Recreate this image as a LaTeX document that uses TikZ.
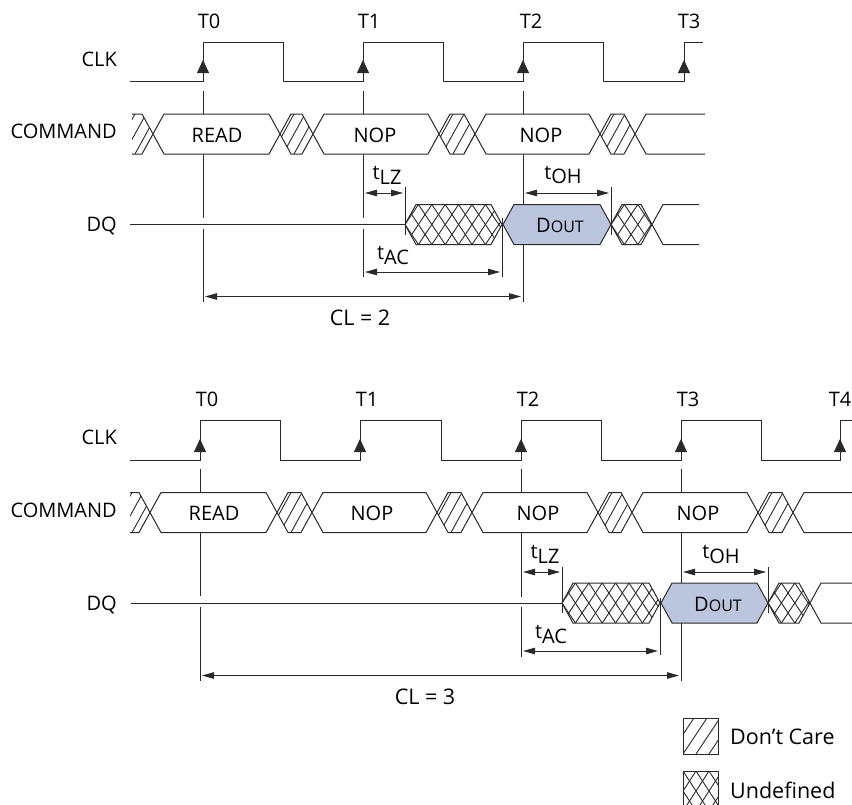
\documentclass[tikz,border=0pt]{standalone}
\usepackage{fontspec}
\setmainfont{Open Sans}
\usetikzlibrary{arrows.meta}

\definecolor{inkline}{HTML}{2B2A2B}
\definecolor{doutblue}{HTML}{BCC5DE}

\tikzset{
  sig/.style={draw=inkline, line width=1pt, line join=miter},
  tick/.style={draw=inkline, line width=1pt},
  hatchline/.style={draw=inkline, line width=0.9pt},
  dim/.style={draw=inkline, line width=0.9pt, {Triangle[length=12pt,width=6.5pt]}-{Triangle[length=12pt,width=6.5pt]}, shorten >=2pt, shorten <=2pt},
  clkarr/.style={draw=inkline, line width=1pt, -{Triangle[length=13pt,width=12pt]}},
  lbl/.style={font=\fontsize{20}{22}\selectfont, text=black, inner sep=0pt},
  sigl/.style={lbl, anchor=east},
  keyl/.style={lbl, anchor=west, font=\fontsize{21.5}{24}\selectfont},
  tname/.style={lbl}
}

% hex of one bus value: left point, right point, mid y
\newcommand{\hexpath}[3]{(#1,#3) -- (#1+11,#3-20) -- (#2-11,#3-20) -- (#2,#3) -- (#2-11,#3+20) -- (#1+11,#3+20) -- cycle}
\newcommand{\valueband}[3]{\draw[sig, fill=white] \hexpath{#1}{#2}{#3};}
\newcommand{\dontcare}[3]{%
  \begin{scope}
    \clip \hexpath{#1}{#2}{#3};
    \foreach \k in {-2,...,8} \draw[hatchline] (#1+\k*11-8,#3+20) -- ++(22,-40);
  \end{scope}
  \draw[sig] \hexpath{#1}{#2}{#3};}
\newcommand{\undefband}[3]{%
  \begin{scope}
    \clip \hexpath{#1}{#2}{#3};
    \foreach \k in {-2,...,10} {
      \draw[hatchline] (#1+\k*13.4-13.4,#3+20) -- ++(26.8,-40);
      \draw[hatchline] (#1+\k*13.4-13.4,#3-20) -- ++(26.8,40);
    }
  \end{scope}
  \draw[sig] \hexpath{#1}{#2}{#3};}
\newcommand{\subt}[2]{t\raisebox{-#2}{#1}}
\newcommand{\dout}{D{\fontsize{16}{18}\selectfont OUT}}

\begin{document}
\begin{tikzpicture}[x=1pt, y=-1pt]
  \useasboundingbox (0,0) rectangle (852,804);

  % Upper diagram
  \draw[sig] (130,81) -- (203,81) -- (203,42) -- (283,42) -- (283,81) -- (363,81) -- (363,42)
    -- (443,42) -- (443,81) -- (523,81) -- (523,42) -- (603,42) -- (603,81) -- (684,81) -- (684,42) -- (703,42);
  \foreach \n/\x/\lx in {0/203/209, 1/363/369, 2/523/531, 3/684/689} {
    \node[tname] (upT\n) at (\lx,21) {T\n};
    \coordinate (upRise\n) at (\x,73);
    \coordinate (upHead\n) at (\x,60);
    \draw[clkarr] (upRise\n) -- (upHead\n);
  }
  \foreach \x in {203,363,523} \draw[tick] (\x,91) -- (\x,114);
  \draw[tick] (203,154) -- (203,218);
  \draw[tick] (203,229) -- (203,302);
  \draw[tick] (363,154) -- (363,218);
  \draw[tick] (363,229) -- (363,277);
  \draw[tick] (523,154) -- (523,302);

  \node[sigl] (upClk) at (117,59) {CLK};
  \node[sigl] (upCmd) at (117,131) {COMMAND};
  \node[sigl] (upDq) at (117,226) {DQ};

  \begin{scope}
    \clip (132,100) rectangle (705,165);
    \dontcare{121}{153}{134}
    \valueband{153}{280}{134}
    \dontcare{280}{313}{134}
    \valueband{313}{439}{134}
    \dontcare{439}{475}{134}
    \valueband{475}{600}{134}
    \dontcare{600}{635}{134}
    \valueband{635}{740}{134}
  \end{scope}
  \node[lbl] (upRead) at (217,135) {READ};
  \node[lbl] (upNopA) at (375,135) {NOP};
  \node[lbl] (upNopB) at (541,135) {NOP};

  \coordinate (upDqL) at (130,224);
  \coordinate (upDqR) at (405,224);
  \draw[sig] (upDqL) -- (upDqR);
  \undefband{405}{502}{224.5}
  \draw[sig, fill=doutblue] \hexpath{503}{611}{224.5};
  \undefband{611}{652}{224.5}
  \begin{scope}
    \clip (640,195) rectangle (699,255);
    \valueband{652}{740}{224.5}
  \end{scope}
  \node[lbl] (upDout) at (560,225) {\dout};

  \draw[tick] (405,187) -- (405,235);
  \draw[tick] (502,218) -- (502,277);
  \draw[tick] (611,187) -- (611,235);

  \coordinate (upLzA) at (363,193);
  \coordinate (upLzB) at (405,193);
  \coordinate (upOhA) at (523,193);
  \coordinate (upOhB) at (611,193);
  \coordinate (upAcA) at (363,272);
  \coordinate (upAcB) at (502,272);
  \coordinate (upClA) at (203,296.5);
  \coordinate (upClB) at (523,296.5);
  \draw[dim] (upLzA) -- (upLzB);
  \draw[dim] (upOhA) -- (upOhB);
  \draw[dim] (upAcA) -- (upAcB);
  \draw[dim] (upClA) -- (upClB);
  \node[lbl] (upLz) at (387,175) {\subt{LZ}{5pt}};
  \node[lbl] (upOh) at (563,175) {\subt{OH}{5pt}};
  \node[lbl] (upAc) at (393,255) {\subt{AC}{5pt}};
  \node[lbl, font=\fontsize{21.5}{24}\selectfont] (upCl) at (360,318) {CL = 2};

  % Lower diagram
  \draw[sig] (130,460) -- (200,460) -- (200,420) -- (280,420) -- (280,460) -- (360,460) -- (360,420)
    -- (441,420) -- (441,460) -- (521,460) -- (521,420) -- (601,420) -- (601,460) -- (681,460) -- (681,420)
    -- (761,420) -- (761,460) -- (840,460) -- (840,420) -- (852,420);
  \foreach \n/\x/\lx in {0/200/207, 1/360/367, 2/521/528, 3/681/688} {
    \node[tname] (loT\n) at (\lx,399) {T\n};
    \coordinate (loRise\n) at (\x,452);
    \coordinate (loHead\n) at (\x,439);
    \draw[clkarr] (loRise\n) -- (loHead\n);
  }
  \node[tname, anchor=east] (loT4) at (851.5,399) {T4};
  \coordinate (loRise4) at (840,452);
  \coordinate (loHead4) at (840,439);
  \draw[clkarr] (loRise4) -- (loHead4);
  \foreach \x in {200,521,681} \draw[tick] (\x,469) -- (\x,492.5);
  \draw[tick] (200,532.5) -- (200,596);
  \draw[tick] (200,607) -- (200,681);
  \draw[tick] (521,532.5) -- (521,597);
  \draw[tick] (521,607) -- (521,657);
  \draw[tick] (681,532.5) -- (681,681);

  \node[sigl] (loClk) at (117,437) {CLK};
  \node[sigl] (loCmd) at (117,510) {COMMAND};
  \node[sigl] (loDq) at (117,605) {DQ};

  \begin{scope}
    \clip (130,480) rectangle (852,545);
    \dontcare{118}{150}{512.5}
    \valueband{150}{277}{512.5}
    \dontcare{277}{312}{512.5}
    \valueband{312}{437}{512.5}
    \dontcare{437}{472}{512.5}
    \valueband{472}{598}{512.5}
    \dontcare{598}{632}{512.5}
    \valueband{632}{758}{512.5}
    \dontcare{758}{793}{512.5}
    \valueband{793}{900}{512.5}
  \end{scope}
  \node[lbl] (loRead) at (214,513) {READ};
  \node[lbl] (loNopA) at (372,513) {NOP};
  \node[lbl] (loNopB) at (538,513) {NOP};
  \node[lbl] (loNopC) at (698,513) {NOP};

  \coordinate (loDqL) at (131,603);
  \coordinate (loDqR) at (562,603);
  \draw[sig] (loDqL) -- (loDqR);
  \undefband{562}{660}{603}
  \draw[sig, fill=doutblue] \hexpath{661}{768}{603};
  \undefband{768}{810}{603}
  \begin{scope}
    \clip (800,575) rectangle (852,635);
    \valueband{810}{900}{603}
  \end{scope}
  \node[lbl] (loDout) at (718,604) {\dout};

  \draw[tick] (562,567) -- (562,613);
  \draw[tick] (660,598) -- (660,655);
  \draw[tick] (768,567) -- (768,613);

  \coordinate (loLzA) at (521,572);
  \coordinate (loLzB) at (562,572);
  \coordinate (loOhA) at (681,572);
  \coordinate (loOhB) at (768,572);
  \coordinate (loAcA) at (521,651);
  \coordinate (loAcB) at (660,651);
  \coordinate (loClA) at (200,675.5);
  \coordinate (loClB) at (681,675.5);
  \draw[dim] (loLzA) -- (loLzB);
  \draw[dim] (loOhA) -- (loOhB);
  \draw[dim] (loAcA) -- (loAcB);
  \draw[dim] (loClA) -- (loClB);
  \node[lbl] (loLz) at (545,554) {\subt{LZ}{5pt}};
  \node[lbl] (loOh) at (721,554) {\subt{OH}{5pt}};
  \node[lbl] (loAc) at (551,634) {\subt{AC}{5pt}};
  \node[lbl, font=\fontsize{21.5}{24}\selectfont] (loCl) at (425,697) {CL = 3};

  % Legend
  \begin{scope}
    \clip (683,718) rectangle (718,754);
    \foreach \k in {-1,...,3} \draw[hatchline] (683+\k*13,754) -- ++(24,-36);
  \end{scope}
  \draw[sig, line width=0.9pt] (683,718) rectangle (718,754);
  \begin{scope}
    \clip (683,771) rectangle (718,804);
    \foreach \k in {-1,...,3} {
      \draw[hatchline] (683+\k*13,811) -- ++(26,-40);
      \draw[hatchline] (683+\k*13,771) -- ++(26,40);
    }
  \end{scope}
  \draw[sig, line width=0.9pt] (683,771) rectangle (718,810);
  \node[keyl] (keyCare) at (730,737) {Don't Care};
  \node[keyl] (keyUndef) at (730,790) {Undefined};
\end{tikzpicture}
\end{document}
